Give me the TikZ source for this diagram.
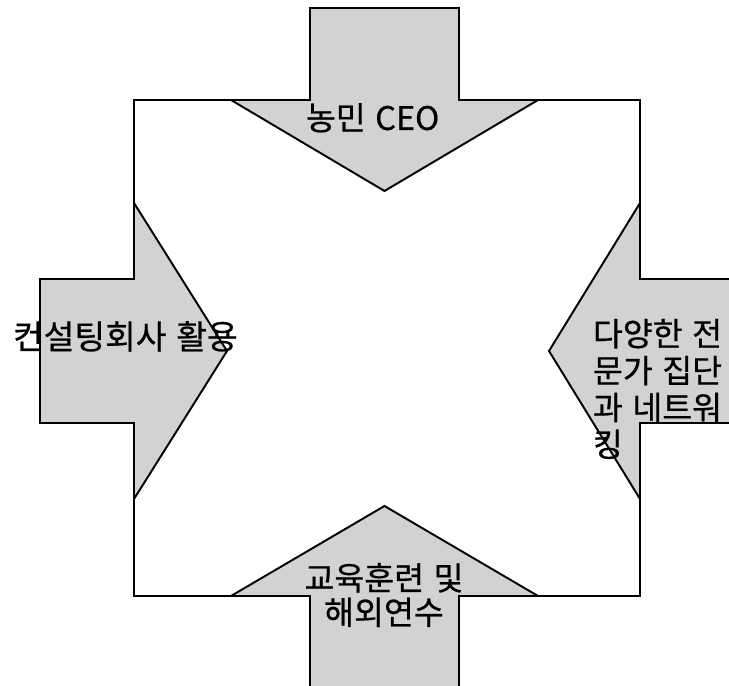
\documentclass[tikz,border=0pt]{standalone}
\usepackage{fontspec}
\setmainfont{Noto Sans CJK KR}[WordSpace=1.3, FakeBold=0.6]
\definecolor{arrowgray}{RGB}{210,210,210}

\begin{document}
\begin{tikzpicture}[line width=1.1pt, font={\fontsize{18.5}{21}\selectfont}]

\useasboundingbox (0,0) rectangle (14.58,13.72);

\draw[fill=white] (2.68,1.80) rectangle (12.80,11.72);


\draw[fill=arrowgray] (6.20,13.56) -- (9.18,13.56) -- (9.18,11.72) -- (10.76,11.72)
 -- (7.69,9.90) -- (4.62,11.72) -- (6.20,11.72) -- cycle;

\draw[fill=arrowgray] (0.80,8.14) -- (2.68,8.14) -- (2.68,9.66) -- (4.54,6.70)
 -- (2.68,3.74) -- (2.68,5.26) -- (0.80,5.26) -- cycle;

\draw[fill=arrowgray] (14.70,8.14) -- (12.80,8.14) -- (12.80,9.66) -- (10.98,6.70)
 -- (12.80,3.74) -- (12.80,5.26) -- (14.70,5.26) -- cycle;

\draw[fill=arrowgray] (6.20,-0.20) -- (6.20,1.80) -- (4.62,1.80) -- (7.69,3.60)
 -- (10.76,1.80) -- (9.18,1.80) -- (9.18,-0.20) -- cycle;


\node [anchor=base west, inner sep=0pt] (ceo) at (6.10,11.12) {농민 CEO};

\node [anchor=base west, inner sep=0pt, font={\fontsize{19}{21}\selectfont}]
 (consult) at (0.24,6.74) {컨설팅회사 활용};

\node [anchor=north west, align=left, inner sep=0pt] (experts)
 at (11.84,7.36) {다양한 전\\문가 집단\\과 네트워\\킹};

\node [anchor=north, align=center, inner sep=0pt, font={\fontsize{18.5}{19.5}\selectfont}]
 (training) at (7.68,2.48) {교육훈련 및\\해외연수};

\end{tikzpicture}
\end{document}
